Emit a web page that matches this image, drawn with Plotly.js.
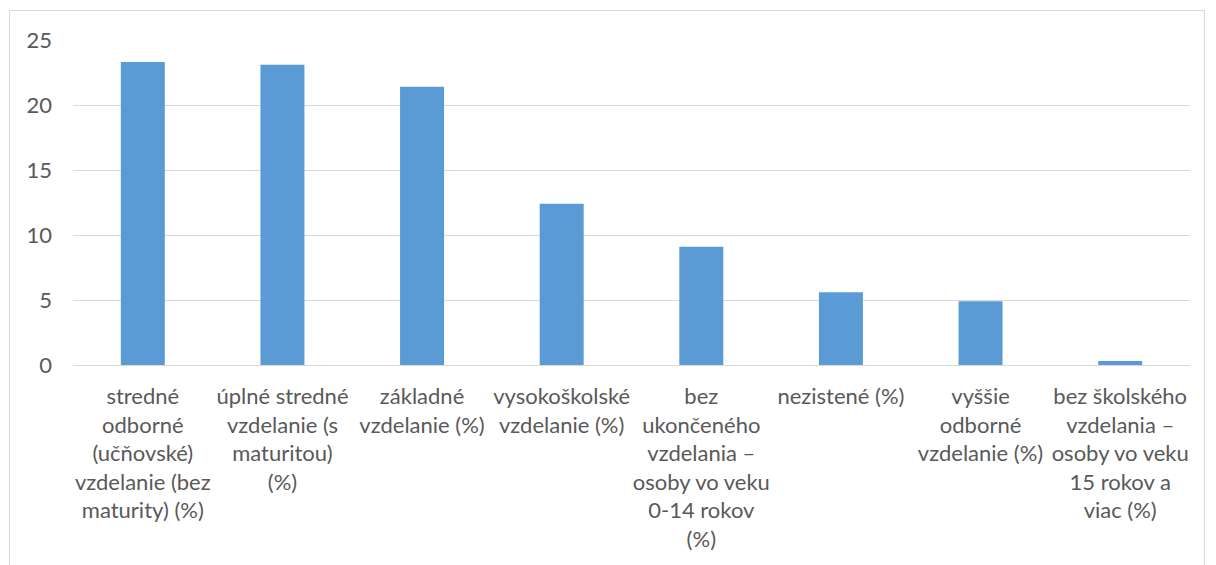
<!DOCTYPE html>
<html><head><meta charset="utf-8">
<script src="https://cdn.plot.ly/plotly-3.0.1.min.js"></script>
<style>
html,body{margin:0;padding:0;background:#fff;}
#frame{position:absolute;left:9px;top:10px;width:1196px;height:600px;border:1px solid #d9d9d9;box-sizing:border-box;}
#chart{position:absolute;left:0;top:0;width:1216px;height:565px;}
</style></head>
<body>
<div id="frame"></div>
<div id="chart"></div>
<script>
const categories = [
  "stredné<br>odborné<br>(učňovské)<br>vzdelanie (bez<br>maturity) (%)",
  "úplné stredné<br>vzdelanie (s<br>maturitou)<br>(%)",
  "základné<br>vzdelanie (%)",
  "vysokoškolské<br>vzdelanie (%)",
  "bez<br>ukončeného<br>vzdelania –<br>osoby vo veku<br>0-14 rokov<br>(%)",
  "nezistené (%)",
  "vyššie<br>odborné<br>vzdelanie (%)",
  "bez školského<br>vzdelania –<br>osoby vo veku<br>15 rokov a<br>viac (%)"
];
const values = [23.3, 23.1, 21.4, 12.4, 9.1, 5.6, 4.9, 0.3];
const yTicks = [0, 5, 10, 15, 20, 25];

const trace = {
  type: 'bar',
  x: categories,
  y: values,
  marker: {color: '#5b9bd5'},
  hoverinfo: 'none'
};
const font = {family: 'Lato, "Open Sans", sans-serif', size: 22, color: '#595959'};
const layout = {
  width: 1216, height: 565,
  paper_bgcolor: 'rgba(0,0,0,0)', plot_bgcolor: 'rgba(0,0,0,0)',
  margin: {l: 73, r: 26, t: 40, b: 200},
  bargap: 0.685,
  showlegend: false,
  font: font,
  xaxis: {
    type: 'category',
    tickangle: 0,
    showgrid: false,
    showline: false,
    zeroline: false,
    ticks: '',
    ticklabelstandoff: 16,
    tickfont: font,
    fixedrange: true
  },
  yaxis: {
    range: [0, 25],
    tickvals: yTicks,
    ticktext: yTicks.map(String),
    showgrid: true,
    gridcolor: '#d9d9d9',
    gridwidth: 1,
    zeroline: true,
    zerolinecolor: '#d9d9d9',
    zerolinewidth: 1,
    showline: false,
    ticks: '',
    ticklabelstandoff: 20,
    tickfont: font,
    fixedrange: true
  }
};
Plotly.newPlot('chart', [trace], layout, {displayModeBar: false, staticPlot: true});
</script>
</body></html>
